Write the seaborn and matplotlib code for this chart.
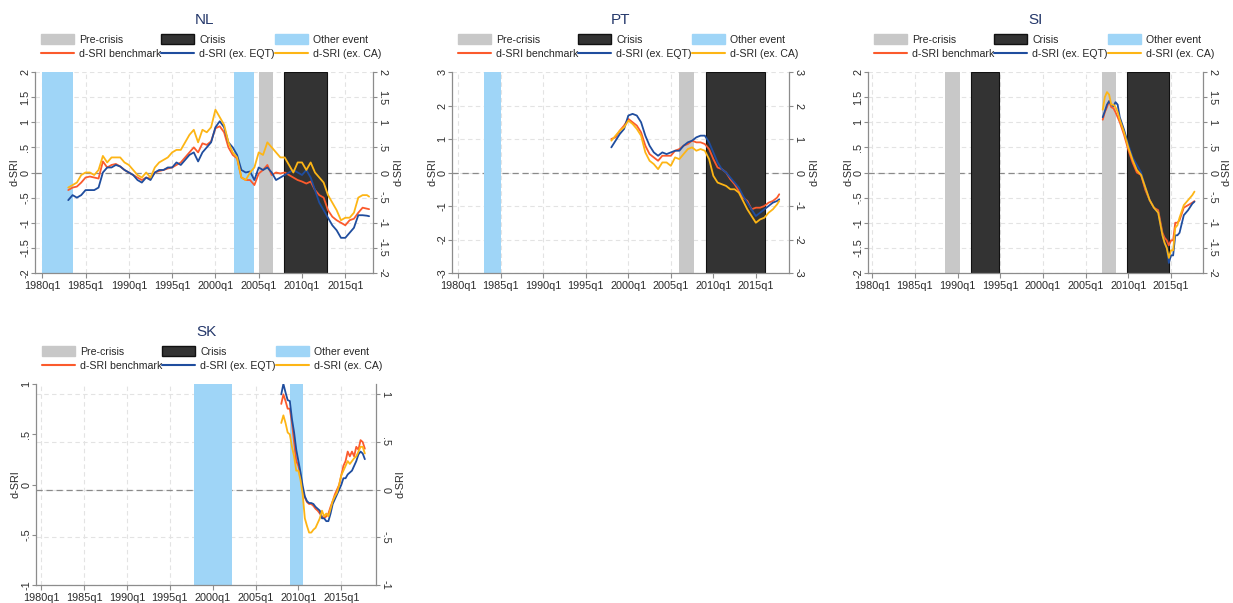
import numpy as np
import pandas as pd
import matplotlib
matplotlib.use("Agg")
import matplotlib.pyplot as plt
import seaborn as sns
from matplotlib.patches import Patch
from matplotlib.lines import Line2D
from matplotlib.ticker import FuncFormatter

sns.set_style("white")
plt.rcParams['font.family'] = ['Liberation Sans', 'DejaVu Sans']

# ---------------- data ----------------
legend_labels = ["Pre-crisis", "d-SRI benchmark", "Crisis", "d-SRI (ex. EQT)",
                 "Other event", "d-SRI (ex. CA)"]
x_tick_years = [1980, 1985, 1990, 1995, 2000, 2005, 2010, 2015]
x_tick_labels = ["1980q1", "1985q1", "1990q1", "1995q1", "2000q1", "2005q1", "2010q1", "2015q1"]

# NL
nl_dates = [1983.0 + 0.5 * i for i in range(70)] + [2017.75]
nl_bench = [-0.35, -0.30, -0.28, -0.20, -0.10, -0.08, -0.10, -0.12, 0.22, 0.10,
            0.15, 0.17, 0.12, 0.05, 0.00, -0.05, -0.10, -0.15, -0.10, -0.12,
            0.00, 0.03, 0.05, 0.08, 0.10, 0.15, 0.20, 0.30, 0.40, 0.50,
            0.40, 0.58, 0.55, 0.62, 0.88, 0.92, 0.80, 0.50, 0.35, 0.28,
            -0.10, -0.15, -0.15, -0.25, -0.02, 0.05, 0.15, -0.05, 0.00, -0.02,
            0.00, -0.05, -0.10, -0.15, -0.18, -0.22, -0.18, -0.35, -0.45, -0.50,
            -0.75, -0.88, -0.95, -1.00, -1.05, -0.95, -0.92, -0.80, -0.70, -0.72,
            -0.73]
nl_eqt = [-0.55, -0.45, -0.50, -0.45, -0.35, -0.35, -0.35, -0.30, 0.00, 0.10,
          0.10, 0.15, 0.12, 0.05, 0.00, -0.05, -0.15, -0.20, -0.10, -0.15,
          0.00, 0.05, 0.05, 0.10, 0.10, 0.20, 0.15, 0.25, 0.35, 0.40,
          0.22, 0.40, 0.50, 0.60, 0.90, 1.02, 0.90, 0.60, 0.50, 0.35,
          0.05, 0.00, 0.02, -0.15, 0.10, 0.05, 0.10, 0.00, -0.15, -0.10,
          -0.05, 0.00, 0.05, 0.00, -0.05, 0.05, -0.10, -0.35, -0.60, -0.75,
          -0.90, -1.05, -1.15, -1.30, -1.30, -1.20, -1.10, -0.85, -0.85, -0.86,
          -0.87]
nl_ca = [-0.30, -0.25, -0.20, -0.05, 0.00, 0.00, -0.05, 0.05, 0.33, 0.20,
         0.30, 0.30, 0.30, 0.20, 0.15, 0.05, -0.05, -0.10, 0.00, -0.10,
         0.10, 0.20, 0.25, 0.30, 0.40, 0.45, 0.45, 0.60, 0.75, 0.85,
         0.60, 0.85, 0.80, 0.90, 1.25, 1.10, 0.95, 0.60, 0.40, 0.30,
         -0.10, -0.15, 0.00, 0.10, 0.40, 0.35, 0.60, 0.50, 0.40, 0.30,
         0.30, 0.15, 0.00, 0.20, 0.20, 0.05, 0.20, 0.00, -0.10, -0.20,
         -0.45, -0.60, -0.75, -0.95, -0.90, -0.90, -0.80, -0.50, -0.45, -0.45,
         -0.48]
nl_pre = [(2005.0, 2006.6)]
nl_crisis = [(2007.9, 2012.9)]
nl_other = [(1980.0, 1983.5), (2002.2, 2004.4)]

# PT
pt_dates = [1998.0 + 0.5 * i for i in range(40)] + [2017.75]
pt_bench = [1.00, 1.05, 1.25, 1.40, 1.60, 1.50, 1.40, 1.20, 0.80, 0.55,
            0.45, 0.35, 0.50, 0.50, 0.50, 0.65, 0.70, 0.80, 0.85, 0.95,
            0.90, 0.90, 0.85, 0.70, 0.40, 0.15, 0.10, 0.00, -0.20, -0.35,
            -0.55, -0.75, -0.85, -1.10, -1.05, -1.05, -1.00, -0.90, -0.85, -0.75,
            -0.65]
pt_eqt = [0.75, 0.95, 1.15, 1.30, 1.70, 1.75, 1.70, 1.50, 1.10, 0.80,
          0.60, 0.50, 0.60, 0.55, 0.60, 0.65, 0.65, 0.80, 0.90, 0.95,
          1.05, 1.10, 1.10, 0.90, 0.60, 0.30, 0.10, 0.00, -0.15, -0.30,
          -0.45, -0.70, -0.90, -1.10, -1.30, -1.20, -1.10, -1.00, -0.90, -0.85,
          -0.80]
pt_ca = [0.95, 1.10, 1.25, 1.35, 1.55, 1.45, 1.30, 1.10, 0.60, 0.35,
         0.25, 0.10, 0.30, 0.30, 0.20, 0.45, 0.40, 0.55, 0.70, 0.75,
         0.65, 0.70, 0.65, 0.40, -0.10, -0.30, -0.35, -0.40, -0.50, -0.50,
         -0.60, -0.85, -1.10, -1.30, -1.50, -1.40, -1.35, -1.20, -1.10, -0.95,
         -0.85]
pt_pre = [(2005.95, 2007.7)]
pt_crisis = [(2009.1, 2016.05)]
pt_other = [(1983.05, 1985.05)]

# SI
si_dates = [2007.0, 2007.25, 2007.5, 2007.75, 2008.0, 2008.25, 2008.5, 2008.75,
            2009.0, 2009.5, 2010.0, 2010.5, 2011.0, 2011.5, 2012.0, 2012.5,
            2013.0, 2013.5, 2014.0, 2014.25, 2014.5, 2014.75, 2015.0, 2015.25,
            2015.5, 2015.75, 2016.0, 2016.5, 2017.0, 2017.5, 2017.75]
si_bench = [1.05, 1.20, 1.30, 1.42, 1.30, 1.28, 1.20, 1.10, 1.00, 0.75, 0.45,
            0.20, 0.00, -0.05, -0.35, -0.55, -0.70, -0.75, -1.20, -1.30, -1.35,
            -1.45, -1.35, -1.35, -1.00, -1.00, -0.95, -0.70, -0.65, -0.60, -0.57]
si_eqt = [1.10, 1.22, 1.35, 1.42, 1.35, 1.32, 1.40, 1.35, 1.10, 0.85, 0.55,
          0.30, 0.15, 0.00, -0.30, -0.55, -0.70, -0.80, -1.25, -1.40, -1.50,
          -1.80, -1.65, -1.65, -1.25, -1.25, -1.20, -0.85, -0.75, -0.62, -0.58]
si_ca = [1.25, 1.50, 1.60, 1.55, 1.35, 1.35, 1.30, 1.20, 1.05, 0.80, 0.50,
         0.25, 0.05, -0.05, -0.30, -0.55, -0.70, -0.80, -1.25, -1.40, -1.50,
         -1.70, -1.55, -1.55, -1.10, -1.05, -0.90, -0.65, -0.55, -0.45, -0.38]
si_pre = [(1988.5, 1990.3), (2006.9, 2008.6)]
si_crisis = [(1991.6, 1994.8), (2009.8, 2014.8)]
si_other = []

# SK
sk_dates = [2008.0 + 0.25 * i for i in range(40)]
sk_bench = [0.90, 1.00, 0.93, 0.85, 0.85, 0.70, 0.50, 0.30, 0.25, 0.15,
            0.00, -0.08, -0.13, -0.15, -0.15, -0.17, -0.20, -0.22, -0.25, -0.28,
            -0.30, -0.28, -0.25, -0.18, -0.12, -0.05, 0.00, 0.05, 0.15, 0.25,
            0.30, 0.40, 0.35, 0.40, 0.35, 0.45, 0.42, 0.52, 0.50, 0.43]
sk_eqt = [1.00, 1.11, 1.02, 0.94, 0.93, 0.74, 0.60, 0.42, 0.30, 0.18,
          0.04, -0.07, -0.12, -0.14, -0.14, -0.15, -0.18, -0.20, -0.22, -0.30,
          -0.30, -0.33, -0.33, -0.25, -0.15, -0.10, -0.05, 0.00, 0.05, 0.12,
          0.12, 0.16, 0.18, 0.20, 0.25, 0.30, 0.37, 0.40, 0.38, 0.32]
sk_ca = [0.70, 0.78, 0.70, 0.60, 0.58, 0.45, 0.35, 0.20, 0.20, 0.10,
         -0.05, -0.30, -0.38, -0.45, -0.45, -0.42, -0.40, -0.35, -0.30, -0.22,
         -0.28, -0.25, -0.28, -0.20, -0.12, -0.07, -0.03, 0.05, 0.15, 0.20,
         0.25, 0.30, 0.27, 0.30, 0.33, 0.35, 0.40, 0.45, 0.45, 0.38]
sk_pre = []
sk_crisis = []
sk_other = [(1997.8, 2002.25), (2009.05, 2010.55)]

# ---------------- style ----------------
C_PRE = "#c8c8c8"
C_CRI = "#333333"
C_OTH = "#9fd5f7"
C_BEN = "#fb5a2c"
C_EQT = "#1f4d9e"
C_CA = "#fdb515"
C_AX = "#8c8c8c"
C_TXT = "#2b2b2b"
C_TITLE = "#25386b"

FW, FH = 1233, 603
fig = plt.figure(figsize=(FW / 100, FH / 100), dpi=100, facecolor="white")


def stata_fmt(v, pos=None):
    s = f"{v:g}"
    if s.startswith("0."):
        s = s[1:]
    elif s.startswith("-0."):
        s = "-" + s[2:]
    return s


def panel(name, rect, xlim, ylim_r, yt_r, ylim_l, yt_l,
          dates, bench, eqt, ca, pre, crisis, other, rlab_off=25):
    l, r, t, b = rect
    w = r - l
    ax = fig.add_axes([l / FW, 1 - b / FH, w / FW, (b - t) / FH])
    axl = ax.twinx()
    ax.yaxis.tick_right()
    axl.yaxis.tick_left()

    ax.set_axisbelow(True)
    ax.grid(True, color="#e3e3e3", linestyle=(0, (4, 3)), linewidth=0.8)
    ax.axhline(0, color="#8a8a8a", linestyle=(0, (5, 3)), linewidth=0.9, zorder=1)

    for x0, x1 in pre:
        ax.axvspan(x0, x1, facecolor=C_PRE, edgecolor="none", zorder=2)
    for x0, x1 in crisis:
        ax.axvspan(x0, x1, facecolor=C_CRI, edgecolor="#111111", linewidth=0.8, zorder=2)
    for x0, x1 in other:
        ax.axvspan(x0, x1, facecolor=C_OTH, edgecolor="none", zorder=2)

    df = pd.DataFrame({"date": dates, "bench": bench, "eqt": eqt, "ca": ca})
    sns.lineplot(data=df, x="date", y="bench", ax=ax, color=C_BEN, linewidth=1.3, zorder=3)
    sns.lineplot(data=df, x="date", y="eqt", ax=ax, color=C_EQT, linewidth=1.3, zorder=3)
    sns.lineplot(data=df, x="date", y="ca", ax=ax, color=C_CA, linewidth=1.3, zorder=3)

    ax.set_xlim(*xlim)
    ax.set_ylim(*ylim_r)
    axl.set_ylim(*ylim_l)
    ax.set_xticks(x_tick_years)
    ax.set_xticklabels(x_tick_labels)
    ax.set_yticks(yt_r)
    axl.set_yticks(yt_l)
    ax.yaxis.set_major_formatter(FuncFormatter(stata_fmt))
    axl.yaxis.set_major_formatter(FuncFormatter(stata_fmt))

    ax.tick_params(axis="x", bottom=True, length=3.5, width=0.8, color=C_AX,
                   labelsize=7.8, labelcolor=C_TXT, pad=2)
    ax.tick_params(axis="y", right=True, left=False, length=3, width=0.8, color=C_AX,
                   labelsize=7.8, labelcolor=C_TXT, pad=0)
    axl.tick_params(axis="y", left=True, right=False, length=3, width=0.8, color=C_AX,
                    labelsize=7.8, labelcolor=C_TXT, pad=0.5)
    for lab in ax.get_yticklabels():
        lab.set_rotation(-90)
        lab.set_va("center")
    for lab in axl.get_yticklabels():
        lab.set_rotation(90)
        lab.set_va("center")

    ax.spines["top"].set_visible(False)
    for sp in ["left", "right", "bottom"]:
        ax.spines[sp].set_color(C_AX)
        ax.spines[sp].set_linewidth(0.9)
    for sp in axl.spines.values():
        sp.set_visible(False)

    ax.set_xlabel("")
    ax.set_ylabel("d-SRI", fontsize=7.8, color=C_TXT, rotation=90, va="center", ha="center")
    ax.yaxis.set_label_coords(1 + rlab_off / w, 0.5)
    axl.set_ylabel("d-SRI", fontsize=7.8, color=C_TXT, rotation=90, va="center", ha="center")
    axl.yaxis.set_label_coords(-20 / w, 0.5)

    fig.text((l + r) / 2 / FW, 1 - (t - 52) / FH, name, ha="center", va="center",
             fontsize=11, color=C_TITLE)

    handles = [Patch(facecolor=C_PRE, edgecolor=C_PRE),
               Line2D([], [], color=C_BEN, linewidth=1.5),
               Patch(facecolor=C_CRI, edgecolor="#111111"),
               Line2D([], [], color=C_EQT, linewidth=1.5),
               Patch(facecolor=C_OTH, edgecolor=C_OTH),
               Line2D([], [], color=C_CA, linewidth=1.5)]
    ax.legend(handles, legend_labels, ncol=3, loc="upper left",
              bbox_to_anchor=((l + 6) / FW, 1 - (t - 38) / FH),
              bbox_transform=fig.transFigure, frameon=False, fontsize=7.6,
              handlelength=3.1, handleheight=1.1, handletextpad=0.5,
              columnspacing=0.0, labelspacing=0.35, borderpad=0, borderaxespad=0)
    return ax


yt2 = [-2, -1.5, -1, -0.5, 0, 0.5, 1, 1.5, 2]
yt3 = [-3, -2, -1, 0, 1, 2, 3]
yt1 = [-1, -0.5, 0, 0.5, 1]

panel("NL", (35, 373, 72, 273), (1979.16, 2018.2), (-2, 2), yt2, (-2, 2), yt2,
      nl_dates, nl_bench, nl_eqt, nl_ca, nl_pre, nl_crisis, nl_other)
panel("PT", (452, 789, 72, 273), (1979.26, 2018.9), (-3, 3), yt3, (-3, 3), yt3,
      pt_dates, pt_bench, pt_eqt, pt_ca, pt_pre, pt_crisis, pt_other)
panel("SI", (868, 1203, 72, 273), (1979.5, 2018.75), (-2, 2), yt2, (-2, 2), yt2,
      si_dates, si_bench, si_eqt, si_ca, si_pre, si_crisis, si_other, rlab_off=23)
panel("SK", (36, 376, 384, 585), (1979.4, 2019.05), (-1, 1.109), yt1, (-1, 1), yt1,
      sk_dates, sk_bench, sk_eqt, sk_ca, sk_pre, sk_crisis, sk_other)

fig.savefig("out.png", dpi=100, facecolor="white")
